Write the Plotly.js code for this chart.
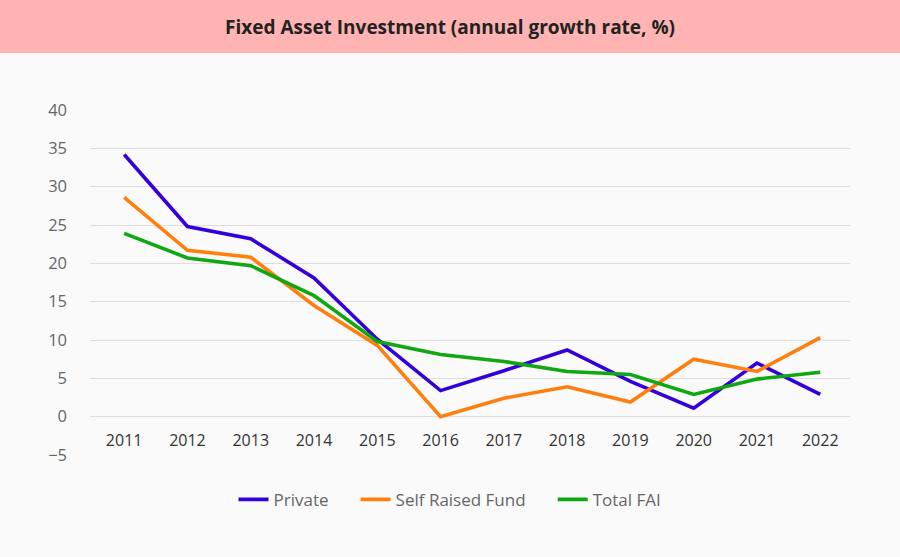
<!DOCTYPE html>
<html><head><meta charset="utf-8">
<script src="https://cdn.plot.ly/plotly-3.0.1.min.js"></script>
<style>html,body{margin:0;padding:0;background:#fafafa}#chart{width:900px;height:557px}</style>
</head><body><div id="chart"></div>
<script>
const years = [2011,2012,2013,2014,2015,2016,2017,2018,2019,2020,2021,2022];
const privateFAI = [34.2,24.8,23.2,18.1,10.1,3.4,6.0,8.7,4.6,1.1,7.0,2.9];
const selfRaised = [28.6,21.7,20.8,14.5,9.3,0.0,2.4,3.9,1.9,7.5,5.9,10.3];
const totalFAI = [23.9,20.7,19.7,15.8,9.8,8.1,7.2,5.9,5.5,2.9,4.9,5.8];
const seriesNames = ["Private","Self Raised Fund","Total FAI"];
const yTicks = [-5,0,5,10,15,20,25,30,35,40];

const colors = ["#3300dd","#ff7f0e","#10a810"];
const vals = [privateFAI, selfRaised, totalFAI];
const pad = '\u00a0\u00a0\u00a0\u00a0\u00a0';
const data = vals.map((v,i)=>({
  x: years, y: v, name: seriesNames[i] + (i<2 ? pad : ''), type:'scatter', mode:'lines',
  line:{color:colors[i], width:3.6}
}));

const plotH = 557-110-102;
const layout = {
  width:900, height:557,
  paper_bgcolor:'#fafafa', plot_bgcolor:'#fafafa',
  margin:{l:90, r:50, t:110, b:102},
  font:{family:'"Open Sans", sans-serif', color:'#555'},
  showlegend:true,
  legend:{orientation:'h', x:(450-90)/760, xanchor:'center', y:-0.13, yanchor:'middle',
    font:{size:17, color:'#666'}, tracegroupgap:0},
  xaxis:{range:[2010.46,2022.47], tickvals:years, ticktext:years.map(String),
    showgrid:false, zeroline:false, showline:false, anchor:'free', position:5/45,
    ticks:'', ticklabelstandoff:12, tickfont:{size:16, color:'#333'}},
  yaxis:{range:[-5,40], tickvals:yTicks, showgrid:true, gridcolor:'#dedede', gridwidth:1,
    zeroline:true, zerolinecolor:'#dedede', zerolinewidth:1, showline:false, ticks:'',
    ticklabelstandoff:22, tickfont:{size:16.5, color:'#666'}},
  shapes:[{type:'rect', xref:'paper', yref:'paper', x0:-90/760, x1:1+50/760,
    y0:1+(110-53)/plotH, y1:1+112/plotH, fillcolor:'#ffb3b3', line:{width:0}, layer:'below'}],
  annotations:[{text:'Fixed Asset Investment (annual growth rate, %)', xref:'paper', yref:'paper',
    x:0.5-20/760, y:1+(110-27)/plotH, xanchor:'center', yanchor:'middle', showarrow:false,
    font:{size:19, color:'#222', weight:700, family:'"Open Sans", sans-serif'}}]
};
Plotly.newPlot('chart', data, layout, {displayModeBar:false, staticPlot:true});
</script></body></html>
